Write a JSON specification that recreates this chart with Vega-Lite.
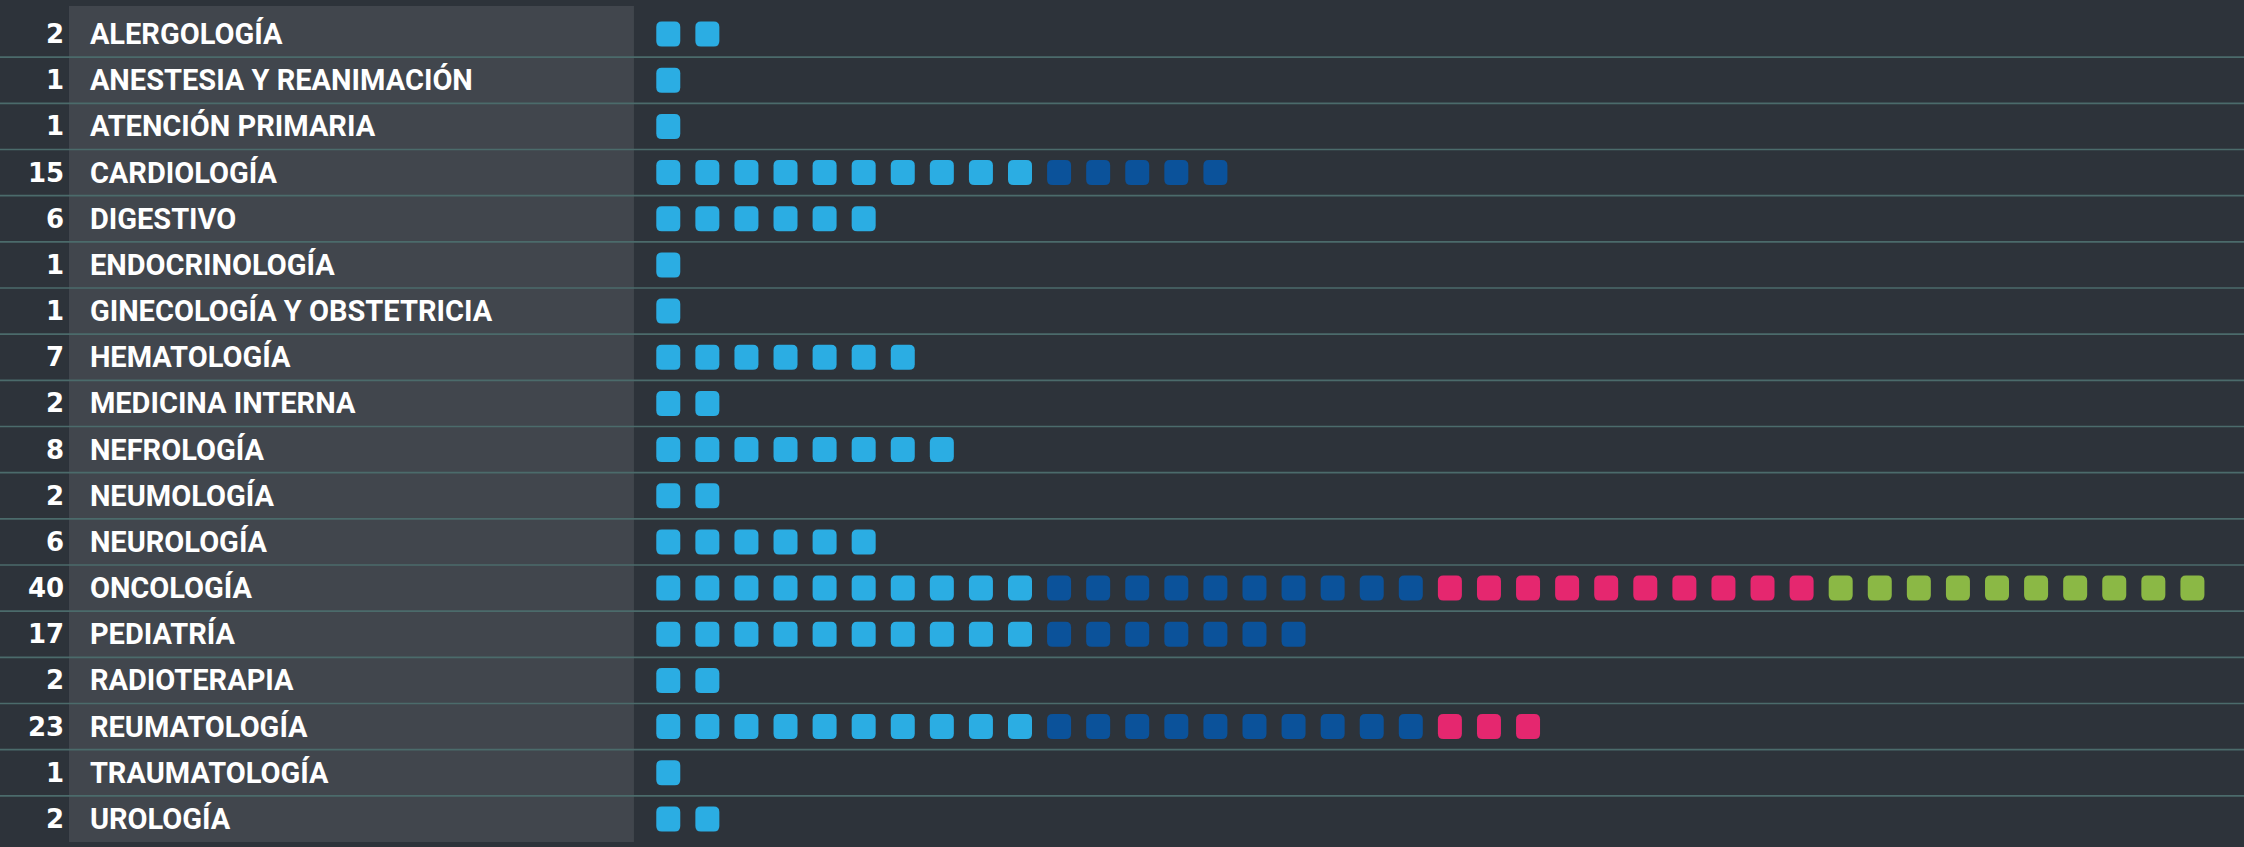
{
  "$schema": "https://vega.github.io/schema/vega-lite/v6.json",
  "autosize": {"type": "none"},
  "width": 2244,
  "height": 831,
  "padding": {"left": 0, "right": 0, "top": 11, "bottom": 5},
  "background": "#2d333a",
  "config": {"view": {"stroke": null}},
  "datasets": {
    "cats": [
      {"c": "ALERGOLOGÍA", "n": 2},
      {"c": "ANESTESIA Y REANIMACIÓN", "n": 1},
      {"c": "ATENCIÓN PRIMARIA", "n": 1},
      {"c": "CARDIOLOGÍA", "n": 15},
      {"c": "DIGESTIVO", "n": 6},
      {"c": "ENDOCRINOLOGÍA", "n": 1},
      {"c": "GINECOLOGÍA Y OBSTETRICIA", "n": 1},
      {"c": "HEMATOLOGÍA", "n": 7},
      {"c": "MEDICINA INTERNA", "n": 2},
      {"c": "NEFROLOGÍA", "n": 8},
      {"c": "NEUMOLOGÍA", "n": 2},
      {"c": "NEUROLOGÍA", "n": 6},
      {"c": "ONCOLOGÍA", "n": 40},
      {"c": "PEDIATRÍA", "n": 17},
      {"c": "RADIOTERAPIA", "n": 2},
      {"c": "REUMATOLOGÍA", "n": 23},
      {"c": "TRAUMATOLOGÍA", "n": 1},
      {"c": "UROLOGÍA", "n": 2}
    ],
    "sq": [
      {"c": "ALERGOLOGÍA", "i": 1}, {"c": "ALERGOLOGÍA", "i": 2},
      {"c": "ANESTESIA Y REANIMACIÓN", "i": 1},
      {"c": "ATENCIÓN PRIMARIA", "i": 1},
      {"c": "CARDIOLOGÍA", "i": 1}, {"c": "CARDIOLOGÍA", "i": 2}, {"c": "CARDIOLOGÍA", "i": 3}, {"c": "CARDIOLOGÍA", "i": 4}, {"c": "CARDIOLOGÍA", "i": 5},
      {"c": "CARDIOLOGÍA", "i": 6}, {"c": "CARDIOLOGÍA", "i": 7}, {"c": "CARDIOLOGÍA", "i": 8}, {"c": "CARDIOLOGÍA", "i": 9}, {"c": "CARDIOLOGÍA", "i": 10},
      {"c": "CARDIOLOGÍA", "i": 11}, {"c": "CARDIOLOGÍA", "i": 12}, {"c": "CARDIOLOGÍA", "i": 13}, {"c": "CARDIOLOGÍA", "i": 14}, {"c": "CARDIOLOGÍA", "i": 15},
      {"c": "DIGESTIVO", "i": 1}, {"c": "DIGESTIVO", "i": 2}, {"c": "DIGESTIVO", "i": 3}, {"c": "DIGESTIVO", "i": 4}, {"c": "DIGESTIVO", "i": 5}, {"c": "DIGESTIVO", "i": 6},
      {"c": "ENDOCRINOLOGÍA", "i": 1},
      {"c": "GINECOLOGÍA Y OBSTETRICIA", "i": 1},
      {"c": "HEMATOLOGÍA", "i": 1}, {"c": "HEMATOLOGÍA", "i": 2}, {"c": "HEMATOLOGÍA", "i": 3}, {"c": "HEMATOLOGÍA", "i": 4}, {"c": "HEMATOLOGÍA", "i": 5}, {"c": "HEMATOLOGÍA", "i": 6}, {"c": "HEMATOLOGÍA", "i": 7},
      {"c": "MEDICINA INTERNA", "i": 1}, {"c": "MEDICINA INTERNA", "i": 2},
      {"c": "NEFROLOGÍA", "i": 1}, {"c": "NEFROLOGÍA", "i": 2}, {"c": "NEFROLOGÍA", "i": 3}, {"c": "NEFROLOGÍA", "i": 4}, {"c": "NEFROLOGÍA", "i": 5}, {"c": "NEFROLOGÍA", "i": 6}, {"c": "NEFROLOGÍA", "i": 7}, {"c": "NEFROLOGÍA", "i": 8},
      {"c": "NEUMOLOGÍA", "i": 1}, {"c": "NEUMOLOGÍA", "i": 2},
      {"c": "NEUROLOGÍA", "i": 1}, {"c": "NEUROLOGÍA", "i": 2}, {"c": "NEUROLOGÍA", "i": 3}, {"c": "NEUROLOGÍA", "i": 4}, {"c": "NEUROLOGÍA", "i": 5}, {"c": "NEUROLOGÍA", "i": 6},
      {"c": "ONCOLOGÍA", "i": 1}, {"c": "ONCOLOGÍA", "i": 2}, {"c": "ONCOLOGÍA", "i": 3}, {"c": "ONCOLOGÍA", "i": 4}, {"c": "ONCOLOGÍA", "i": 5},
      {"c": "ONCOLOGÍA", "i": 6}, {"c": "ONCOLOGÍA", "i": 7}, {"c": "ONCOLOGÍA", "i": 8}, {"c": "ONCOLOGÍA", "i": 9}, {"c": "ONCOLOGÍA", "i": 10},
      {"c": "ONCOLOGÍA", "i": 11}, {"c": "ONCOLOGÍA", "i": 12}, {"c": "ONCOLOGÍA", "i": 13}, {"c": "ONCOLOGÍA", "i": 14}, {"c": "ONCOLOGÍA", "i": 15},
      {"c": "ONCOLOGÍA", "i": 16}, {"c": "ONCOLOGÍA", "i": 17}, {"c": "ONCOLOGÍA", "i": 18}, {"c": "ONCOLOGÍA", "i": 19}, {"c": "ONCOLOGÍA", "i": 20},
      {"c": "ONCOLOGÍA", "i": 21}, {"c": "ONCOLOGÍA", "i": 22}, {"c": "ONCOLOGÍA", "i": 23}, {"c": "ONCOLOGÍA", "i": 24}, {"c": "ONCOLOGÍA", "i": 25},
      {"c": "ONCOLOGÍA", "i": 26}, {"c": "ONCOLOGÍA", "i": 27}, {"c": "ONCOLOGÍA", "i": 28}, {"c": "ONCOLOGÍA", "i": 29}, {"c": "ONCOLOGÍA", "i": 30},
      {"c": "ONCOLOGÍA", "i": 31}, {"c": "ONCOLOGÍA", "i": 32}, {"c": "ONCOLOGÍA", "i": 33}, {"c": "ONCOLOGÍA", "i": 34}, {"c": "ONCOLOGÍA", "i": 35},
      {"c": "ONCOLOGÍA", "i": 36}, {"c": "ONCOLOGÍA", "i": 37}, {"c": "ONCOLOGÍA", "i": 38}, {"c": "ONCOLOGÍA", "i": 39}, {"c": "ONCOLOGÍA", "i": 40},
      {"c": "PEDIATRÍA", "i": 1}, {"c": "PEDIATRÍA", "i": 2}, {"c": "PEDIATRÍA", "i": 3}, {"c": "PEDIATRÍA", "i": 4}, {"c": "PEDIATRÍA", "i": 5},
      {"c": "PEDIATRÍA", "i": 6}, {"c": "PEDIATRÍA", "i": 7}, {"c": "PEDIATRÍA", "i": 8}, {"c": "PEDIATRÍA", "i": 9}, {"c": "PEDIATRÍA", "i": 10},
      {"c": "PEDIATRÍA", "i": 11}, {"c": "PEDIATRÍA", "i": 12}, {"c": "PEDIATRÍA", "i": 13}, {"c": "PEDIATRÍA", "i": 14}, {"c": "PEDIATRÍA", "i": 15},
      {"c": "PEDIATRÍA", "i": 16}, {"c": "PEDIATRÍA", "i": 17},
      {"c": "RADIOTERAPIA", "i": 1}, {"c": "RADIOTERAPIA", "i": 2},
      {"c": "REUMATOLOGÍA", "i": 1}, {"c": "REUMATOLOGÍA", "i": 2}, {"c": "REUMATOLOGÍA", "i": 3}, {"c": "REUMATOLOGÍA", "i": 4}, {"c": "REUMATOLOGÍA", "i": 5},
      {"c": "REUMATOLOGÍA", "i": 6}, {"c": "REUMATOLOGÍA", "i": 7}, {"c": "REUMATOLOGÍA", "i": 8}, {"c": "REUMATOLOGÍA", "i": 9}, {"c": "REUMATOLOGÍA", "i": 10},
      {"c": "REUMATOLOGÍA", "i": 11}, {"c": "REUMATOLOGÍA", "i": 12}, {"c": "REUMATOLOGÍA", "i": 13}, {"c": "REUMATOLOGÍA", "i": 14}, {"c": "REUMATOLOGÍA", "i": 15},
      {"c": "REUMATOLOGÍA", "i": 16}, {"c": "REUMATOLOGÍA", "i": 17}, {"c": "REUMATOLOGÍA", "i": 18}, {"c": "REUMATOLOGÍA", "i": 19}, {"c": "REUMATOLOGÍA", "i": 20},
      {"c": "REUMATOLOGÍA", "i": 21}, {"c": "REUMATOLOGÍA", "i": 22}, {"c": "REUMATOLOGÍA", "i": 23},
      {"c": "TRAUMATOLOGÍA", "i": 1},
      {"c": "UROLOGÍA", "i": 1}, {"c": "UROLOGÍA", "i": 2}
    ]
  },
  "layer": [
    {
      "data": {"name": "cats"},
      "transform": [{"aggregate": [{"op": "count", "as": "k"}]}],
      "mark": {"type": "rect", "color": "#41464d", "yOffset": -5, "y2Offset": 6},
      "encoding": {
        "x": {"datum": -14.335, "type": "quantitative", "scale": {"domain": [-16.1, 41.32], "nice": false, "zero": false}, "axis": null},
        "x2": {"datum": 0.122}
      }
    },
    {
      "data": {"name": "cats"},
      "transform": [{"filter": "datum.c !== 'UROLOGÍA'"}],
      "mark": {"type": "rule", "color": "#4b6b6b", "strokeWidth": 1.6},
      "encoding": {
        "y": {"field": "c", "type": "nominal", "bandPosition": 1, "axis": null,
          "scale": {"paddingInner": 0, "paddingOuter": 0, "domain": ["ALERGOLOGÍA","ANESTESIA Y REANIMACIÓN","ATENCIÓN PRIMARIA","CARDIOLOGÍA","DIGESTIVO","ENDOCRINOLOGÍA","GINECOLOGÍA Y OBSTETRICIA","HEMATOLOGÍA","MEDICINA INTERNA","NEFROLOGÍA","NEUMOLOGÍA","NEUROLOGÍA","ONCOLOGÍA","PEDIATRÍA","RADIOTERAPIA","REUMATOLOGÍA","TRAUMATOLOGÍA","UROLOGÍA"]}}
      }
    },
    {
      "data": {"name": "cats"},
      "mark": {"type": "text", "align": "right", "baseline": "middle", "font": "DejaVu Sans", "fontWeight": "bold", "fontSize": 26, "color": "#ffffff", "dy": 1},
      "encoding": {
        "y": {"field": "c", "type": "nominal", "axis": null},
        "x": {"datum": -14.46, "type": "quantitative"},
        "text": {"field": "n", "type": "quantitative"}
      }
    },
    {
      "data": {"name": "cats"},
      "mark": {"type": "text", "align": "left", "baseline": "middle", "font": "Roboto", "fontWeight": "bold", "fontSize": 29, "color": "#ffffff", "dy": 1},
      "encoding": {
        "y": {"field": "c", "type": "nominal", "axis": null},
        "x": {"datum": -13.8, "type": "quantitative"},
        "text": {"field": "c", "type": "nominal"}
      }
    },
    {
      "data": {"name": "sq"},
      "mark": {"type": "point", "filled": true, "opacity": 1, "size": 625, "strokeWidth": 0,
        "shape": "M -0.52,-1 L 0.52,-1 Q 0.96,-1 0.96,-0.56 L 0.96,0.56 Q 0.96,1 0.52,1 L -0.52,1 Q -0.96,1 -0.96,0.56 L -0.96,-0.56 Q -0.96,-1 -0.52,-1 Z"},
      "encoding": {
        "y": {"field": "c", "type": "nominal", "axis": null},
        "x": {"field": "i", "type": "quantitative"},
        "color": {"field": "i", "type": "quantitative", "legend": null,
          "scale": {"type": "threshold", "domain": [10.5, 20.5, 30.5], "range": ["#2badE3", "#0b529a", "#e5276f", "#8bb845"]}}
      }
    }
  ]
}
